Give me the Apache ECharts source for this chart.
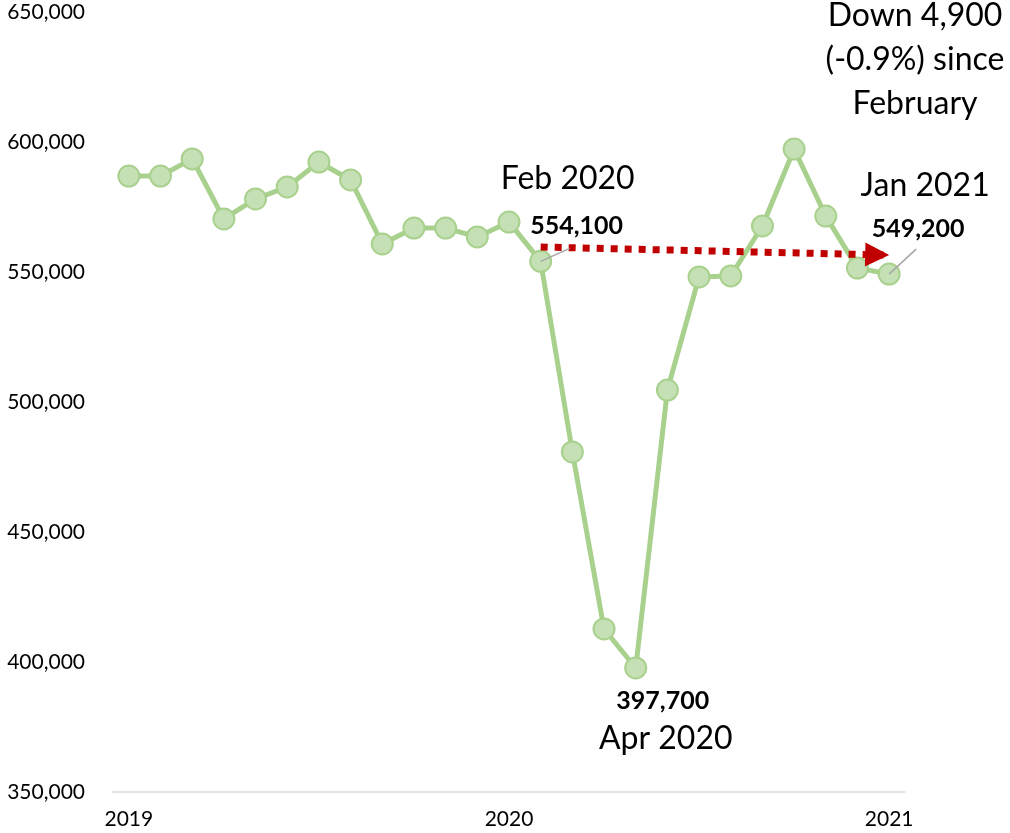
<!DOCTYPE html>
<html>
<head>
<meta charset="utf-8">
<script src="https://cdn.jsdelivr.net/npm/echarts@6/dist/echarts.min.js"></script>
<style>
  html, body { margin: 0; padding: 0; background: #fff; }
  #chart { width: 1010px; height: 833px; }
</style>
</head>
<body>
<div id="chart"></div>
<script>
// monthly totals, Jan 2019 - Jan 2021
const months = [
  'Jan 2019', 'Feb 2019', 'Mar 2019', 'Apr 2019', 'May 2019', 'Jun 2019',
  'Jul 2019', 'Aug 2019', 'Sep 2019', 'Oct 2019', 'Nov 2019', 'Dec 2019',
  'Jan 2020', 'Feb 2020', 'Mar 2020', 'Apr 2020', 'May 2020', 'Jun 2020',
  'Jul 2020', 'Aug 2020', 'Sep 2020', 'Oct 2020', 'Nov 2020', 'Dec 2020',
  'Jan 2021'
]
const values = [
  586900, 586900, 593500, 570400, 578100, 582700,
  592300, 585400, 560800, 566900, 566900, 563500,
  569200, 554100, 480800, 412700, 397700, 504600,
  548100, 548500, 567700, 597300, 571500, 551500,
  549200
]
const yTicks = { min: 350000, max: 650000, step: 50000 }

// annotations: [category, value, text, bold?, offset]
const notes = [
  ['Feb 2020', 554100, 'Feb 2020', false, [27, -83]],
  ['Feb 2020', 554100, '554,100', true, [36, -35]],
  ['May 2020', 397700, '397,700', true, [27, 33]],
  ['May 2020', 397700, 'Apr 2020', false, [30, 71]],
  ['Jan 2021', 549200, 'Jan 2021', false, [36, -88]],
  ['Jan 2021', 549200, '549,200', true, [29, -45]]
]
// red trend arrow from Feb 2020 to Jan 2021
const arrowFrom = ['Feb 2020', 559600]
const arrowTo = ['Jan 2021', 556500]
const summaryText = 'Down 4,900\n(-0.9%) since\nFebruary'

const FONT = 'Lato'
const chart = echarts.init(document.getElementById('chart'))

const fmt = v => v.toLocaleString('en-US')

chart.setOption({
  animation: false,
  grid: { left: 113, right: 105, top: 12, bottom: 41 },
  xAxis: {
    type: 'category',
    data: months,
    boundaryGap: true,
    axisLine: { lineStyle: { color: '#D9D9D9', width: 1.5 } },
    axisTick: { show: false },
    axisLabel: {
      interval: (i) => i % 12 === 0,
      formatter: (v) => v.split(' ')[1],
      color: '#000', fontSize: 21, fontFamily: FONT, margin: 17
    },
    splitLine: { show: false }
  },
  yAxis: {
    type: 'value',
    min: yTicks.min, max: yTicks.max, interval: yTicks.step,
    axisLine: { show: false },
    axisTick: { show: false },
    splitLine: { show: false },
    axisLabel: {
      formatter: fmt, color: '#000', fontSize: 21, fontFamily: FONT,
      margin: 28
    }
  },
  series: [{
    type: 'line',
    data: values,
    symbol: 'circle',
    symbolSize: 21,
    lineStyle: { color: '#A9D18E', width: 5 },
    itemStyle: { color: '#C5E0B4', borderColor: '#A9D18E', borderWidth: 2 },
    emphasis: { disabled: true },
    z: 3,
    markPoint: {
      silent: true,
      symbol: 'circle',
      symbolSize: 0,
      data: notes.map(n => ({
        coord: [n[0], n[1]],
        label: {
          show: true,
          position: 'inside',
          offset: n[4],
          formatter: n[2],
          color: '#000',
          fontFamily: FONT,
          fontSize: n[3] ? 25 : 32,
          fontWeight: n[3] ? 'bold' : 'normal'
        }
      }))
    },
    markLine: {
      silent: true,
      symbol: ['none', 'triangle'],
      symbolSize: [24, 24],
      // pull the arrowhead back so its tip sits on Jan 2021
      symbolOffset: [0, [0, 12]],
      label: { show: false },
      emphasis: { disabled: true },
      lineStyle: { color: '#C00000', width: 7, type: [7, 7], cap: 'butt', opacity: 1 },
      data: [[{ coord: arrowFrom }, { coord: arrowTo }]]
    }
  }]
})

// thin grey leader lines from the labelled points to their value labels
const leaders = [
  ['Feb 2020', 554100, [29, -13]],
  ['Jan 2021', 549200, [27, -25]]
]
const leaderLines = leaders.map((l, i) => {
  const p = chart.convertToPixel({ seriesIndex: 0 }, [l[0], l[1]])
  return {
    id: 'leader' + i,
    type: 'line',
    z: 100,
    shape: { x1: p[0], y1: p[1], x2: p[0] + l[2][0], y2: p[1] + l[2][1] },
    style: { stroke: '#A6A6A6', lineWidth: 1.5 }
  }
})
chart.setOption({
  graphic: [{
    id: 'summary',
    type: 'text',
    x: 915, y: -6,
    style: {
      text: summaryText,
      fill: '#000',
      fontFamily: FONT,
      fontSize: 32,
      fontWeight: 'normal',
      lineHeight: 44,
      align: 'center',
      verticalAlign: 'top'
    }
  }].concat(leaderLines)
})
</script>
</body>
</html>
